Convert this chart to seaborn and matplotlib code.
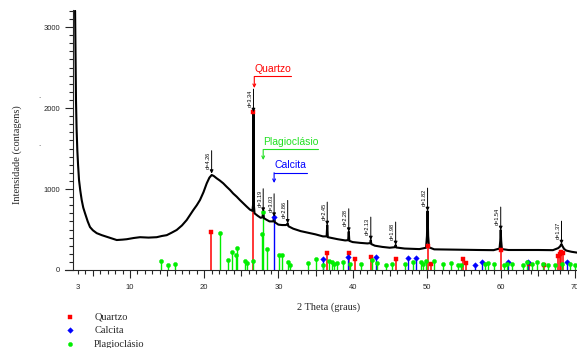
import matplotlib
matplotlib.use("Agg")
import matplotlib.pyplot as plt
import seaborn as sns
import numpy as np
import pandas as pd
from matplotlib.ticker import FixedLocator, MultipleLocator

# ---------------- data ----------------
two_theta = [2.6, 2.65, 2.72, 2.8, 2.9, 3.0, 3.13, 3.3, 3.49, 3.7, 3.94, 4.3, 4.61, 5.0, 5.51,
             6.2, 6.86, 7.5, 8.21, 9.0, 9.56, 10.5, 11.35, 12.5, 13.6, 14.3, 14.95, 15.6, 16.29,
             17.0, 17.64, 18.09, 18.53, 19.0, 19.43, 19.9, 20.34, 20.7, 21.01, 21.3, 21.68, 22.1,
             22.57, 23.0, 23.48, 23.9, 24.38, 24.8, 25.27, 25.7, 26.17, 26.5, 26.6, 26.64, 26.68,
             26.78, 27.2, 27.6, 27.85, 27.95, 28.05, 28.4, 28.8, 29.32, 29.42, 29.52, 30.0, 30.5,
             31.0, 31.15, 31.25, 31.35, 32.0, 33.0, 34.0, 35.0, 36.0, 36.5, 36.58, 36.66, 37.2,
             38.0, 39.0, 39.4, 39.48, 39.56, 40.0, 41.0, 42.0, 42.38, 42.45, 42.52, 43.0, 44.0,
             45.0, 45.72, 45.8, 45.88, 47.0, 48.0, 49.0, 49.9, 50.02, 50.1, 50.18, 50.3, 51.0,
             53.0, 55.0, 57.0, 59.0, 59.8, 59.9, 59.96, 60.02, 60.12, 61.0, 63.0, 65.0, 67.0,
             67.7, 67.95, 68.1, 68.15, 68.25, 68.5, 68.8, 69.5, 70.3]
intensity = [3200, 2700, 2100, 1750, 1480, 1300, 1110, 980, 864, 770, 700, 600, 530, 490, 455,
             430, 410, 390, 370, 375, 380, 395, 405, 400, 405, 420, 430, 460, 494,
             550, 617, 679, 740, 800, 864, 960, 1070, 1140, 1173, 1160, 1132, 1105,
             1070, 1030, 988, 945, 905, 865, 823, 785, 745, 730, 820, 1950, 820,
             700, 670, 645, 650, 720, 640, 620, 600, 600, 658, 590, 560, 555,
             555, 560, 576, 540, 510, 480, 460, 440, 415, 415, 555, 405, 395,
             380, 365, 368, 473, 360, 345, 335, 328, 332, 370, 320, 300, 285,
             275, 282, 309, 278, 265, 262, 258, 275, 420, 728, 420, 280, 255,
             252, 250, 247, 245, 265, 360, 494, 360, 258, 247, 247, 247, 245,
             270, 290, 315, 320, 300, 260, 240, 225, 214]

quartz_pos = [20.86, 26.64, 36.55, 39.46, 40.3, 42.45, 45.8, 50.1, 50.5, 54.85, 55.3, 59.95,
              63.8, 65.8, 67.7, 67.95, 68.15, 68.3]
quartz_int = [465, 1950, 206, 206, 132, 165, 132, 300, 70, 132, 90, 250,
              74, 62, 177, 200, 226, 205]

calcite_pos = [29.42, 36.0, 39.4, 43.15, 47.45, 48.5, 56.55, 57.4, 60.95, 63.65, 68.85]
calcite_int = [658, 136, 156, 156, 152, 152, 62, 95, 95, 95, 95]

plag_pos = [14.14, 15.16, 16.11, 22.17, 23.21, 23.71, 24.33, 24.46, 25.5, 25.73, 26.54, 27.75,
            27.95, 28.42, 30.12, 30.5, 31.33, 31.56, 34.03, 35.03, 35.95, 36.85, 37.18, 37.49,
            37.86, 38.75, 39.65, 41.09, 42.56, 43.33, 44.5, 45.27, 47.06, 48.09, 49.18, 49.5,
            49.89, 51.0, 52.2, 53.2, 54.2, 54.6, 57.8, 58.3, 59.06, 60.4, 60.77, 61.44, 63.0,
            63.46, 64.14, 64.8, 65.6, 66.37, 67.3, 68.2, 69.3, 69.97]
plag_int = [111, 62, 70, 460, 123, 226, 185, 276, 115, 82, 115, 440,
            720, 259, 185, 185, 103, 62, 82, 136, 62, 115, 95, 75,
            82, 95, 75, 75, 123, 82, 62, 70, 70, 103, 95, 70,
            111, 111, 70, 90, 62, 62, 70, 90, 70, 62, 70, 70, 62,
            95, 70, 95, 75, 62, 62, 70, 70, 62]

d_labels = ["d=4.26", "d=3.34", "d=3.19", "d=3.03", "d=2.86", "d=2.45", "d=2.28", "d=2.13",
            "d=1.98", "d=1.82", "d=1.54", "d=1.37"]
d_pos = [21.0, 26.64, 27.95, 29.42, 31.25, 36.58, 39.48, 42.45, 45.8, 50.1, 59.96, 68.15]
d_int = [1190, 1950, 720, 658, 576, 555, 473, 370, 309, 728, 494, 320]

phase_names = ["Quartzo", "Calcita", "Plagioclásio"]
phase_colors = ["#ff0000", "#0000ff", "#00ee00"]

x_tick_vals = [3, 10, 20, 30, 40, 50, 60, 70]
x_tick_labels = ["3", "10", "20", "30", "40", "50", "60", "70"]
y_tick_vals = [0, 1000, 2000, 3000]

# ---------------- figure ----------------
sns.set_style("white")
plt.rcParams["font.family"] = ["Liberation Sans", "DejaVu Sans"]

W, H = 577, 348
fig = plt.figure(figsize=(W / 100, H / 100), dpi=100)
ax = fig.add_axes([65 / W, 1 - 270 / H, 512 / W, 260 / H])
ax.set_facecolor("white")

# sticks
stick_sets = [(quartz_pos, quartz_int, phase_colors[0], 1.1),
              (calcite_pos, calcite_int, phase_colors[1], 1.0),
              (plag_pos, plag_int, phase_colors[2], 1.0)]
for pos, val, col, lw in stick_sets:
    ax.vlines(pos, 0, val, colors=col, lw=lw, zorder=2)

# diffractogram
curve = pd.DataFrame({"2theta": two_theta, "I": intensity})
sns.lineplot(data=curve, x="2theta", y="I", ax=ax, color="black", lw=1.5,
             sort=False, estimator=None, zorder=3)

# markers on top
sns.scatterplot(x=quartz_pos, y=quartz_int, ax=ax, marker="s", color=phase_colors[0],
                s=10, edgecolor=phase_colors[0], linewidth=0.3, zorder=5, label=phase_names[0])
sns.scatterplot(x=calcite_pos, y=calcite_int, ax=ax, marker="D", color=phase_colors[1],
                s=8, edgecolor=phase_colors[1], linewidth=0.3, zorder=5, label=phase_names[1])
sns.scatterplot(x=plag_pos, y=plag_int, ax=ax, marker="o", color=phase_colors[2],
                s=9, edgecolor=phase_colors[2], linewidth=0.3, zorder=5, label=phase_names[2])

# d-spacing labels
for lab, p, v in zip(d_labels, d_pos, d_int):
    ax.annotate("", xy=(p, v), xytext=(0, 16.5), textcoords="offset points",
                arrowprops=dict(arrowstyle="-|>", color="black", lw=0.7,
                                mutation_scale=5, shrinkA=0, shrinkB=0), zorder=6)
    ax.annotate(lab, xy=(p, v), xytext=(-2.4, 16.0), textcoords="offset points",
                rotation=90, ha="center", va="top", fontsize=4, color="black", zorder=6)

# phase labels with underline and arrow
phase_anno = [("Quartzo", phase_colors[0], 26.75, 2389, 2247, 5.0),
              ("Plagioclásio", "#22e022", 27.95, 1488, 1358, 7.4),
              ("Calcita", phase_colors[1], 29.42, 1201, 1074, 4.5)]
for name, col, x0, yu, ytip, w in phase_anno:
    ax.plot([x0, x0 + w], [yu, yu], color=col, lw=0.8, zorder=6)
    ax.annotate("", xy=(x0, ytip), xytext=(x0, yu),
                arrowprops=dict(arrowstyle="->", color=col, lw=0.8, mutation_scale=5,
                                shrinkA=0, shrinkB=0), zorder=6)
    ax.text(x0 + 0.05, yu + 30, name, color=col, fontsize=7.5, ha="left", va="bottom", zorder=6)

# axes
ax.set_xlim(1.24, 70.24)
ax.set_ylim(0, 3210)
for s in ["top", "right"]:
    ax.spines[s].set_visible(False)
ax.spines["left"].set_position(("data", 2.32))
ax.spines["left"].set_linewidth(0.8)
ax.spines["bottom"].set_linewidth(0.8)

ax.set_xticks(x_tick_vals)
ax.set_xticklabels(x_tick_labels)
ax.xaxis.set_minor_locator(FixedLocator([v for v in range(3, 71) if v % 5 != 0]))
ax.set_yticks(y_tick_vals)
ax.yaxis.set_minor_locator(MultipleLocator(100))
ax.tick_params(axis="x", which="major", direction="out", length=5.8, width=0.8,
               labelsize=5.5, pad=4.5, bottom=True)
ax.tick_params(axis="x", which="minor", direction="out", length=2.7, width=0.8, bottom=True)
ax.tick_params(axis="y", which="major", direction="out", length=5.5, width=0.8,
               labelsize=5.5, pad=3.8, left=True)
ax.tick_params(axis="y", which="minor", direction="out", length=3.0, width=0.8, left=True)

sec = ax.secondary_xaxis("bottom")
sec.set_xticks([5, 15, 25, 35, 45, 55, 65])
sec.tick_params(axis="x", length=4.6, width=0.8, labelbottom=False, direction="out")
sec.spines["bottom"].set_visible(False)

ax.set_xlabel("")
ax.set_ylabel("")
handles, labels = ax.get_legend_handles_labels()
if ax.get_legend() is not None:
    ax.get_legend().remove()

serif = ["Liberation Serif", "DejaVu Serif"]
fig.text(17 / W, 1 - 155 / H, "Intensidade (contagens)", rotation=90, ha="center",
         va="center", fontsize=7.5, family=serif)
fig.text(329 / W, 1 - 307 / H, "2 Theta (graus)", ha="center", va="center",
         fontsize=7.5, family=serif)
fig.text(40 / W, 1 - 100 / H, "`", fontsize=5, family=serif, ha="center", va="center")
fig.text(40 / W, 1 - 147 / H, "`", fontsize=5, family=serif, ha="center", va="center")

leg = fig.legend(handles, labels, loc="upper left", bbox_to_anchor=(65 / W, 1 - 312 / H),
                 frameon=False, prop={"family": serif, "size": 7.5}, handlelength=1.0,
                 handletextpad=1.8, labelspacing=0.42, borderaxespad=0, borderpad=0,
                 markerscale=1.0)

fig.canvas.draw()
t0 = ax.xaxis.get_major_ticks()[0]
t0.tick1line.set_markersize(2.7)

fig.savefig("out.png", dpi=100, facecolor="white")
